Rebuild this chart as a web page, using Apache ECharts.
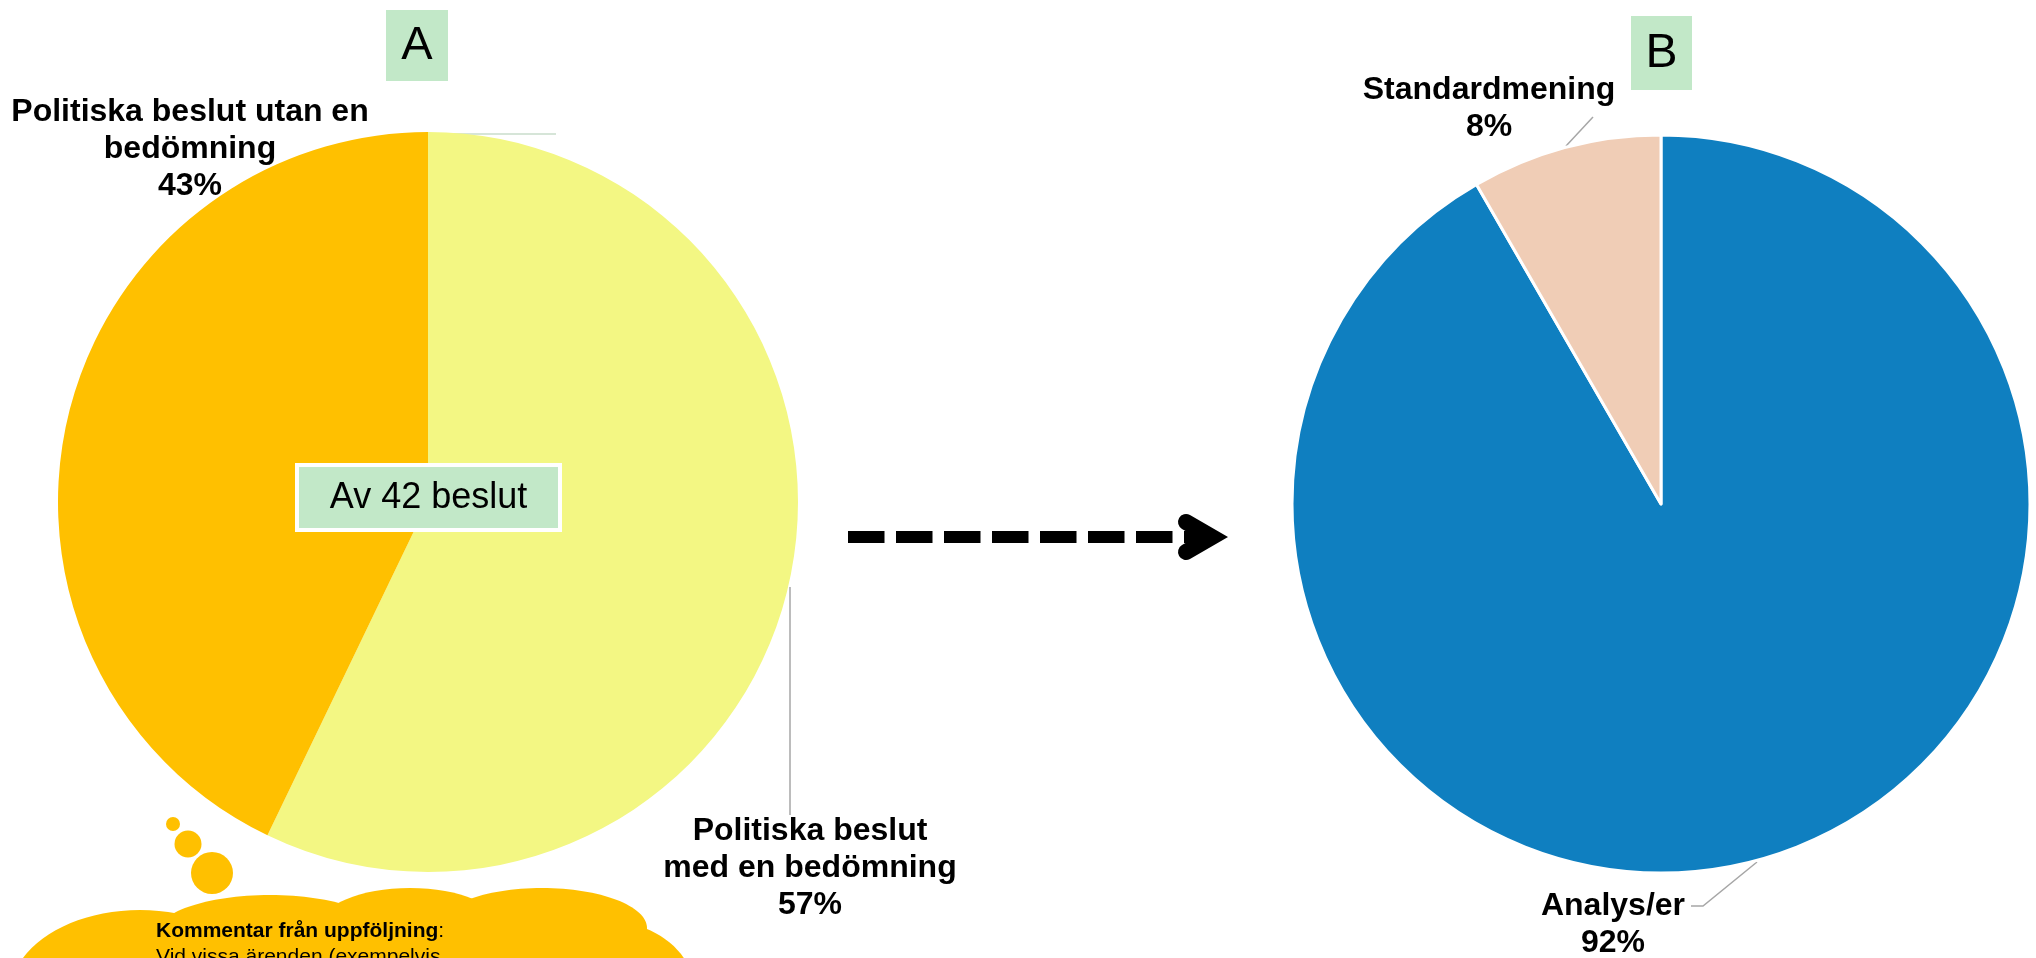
<!DOCTYPE html>
<html>
<head>
<meta charset="utf-8">
<script src="https://cdn.jsdelivr.net/npm/echarts@6/dist/echarts.min.js"></script>
<style>
html,body{margin:0;padding:0;background:#fff;}
#chart{width:2036px;height:958px;}
</style>
</head>
<body>
<div id="chart"></div>
<script>
// ---- data ----
const catA = ['Politiska beslut\nmed en bedömning', 'Politiska beslut utan en\nbedömning'];
const valA = [24, 18];
const catB = ['Analys/er', 'Standardmening'];
const valB = [22, 2];
const totalLabel = 'Av 42 beslut';
const panelA = 'A';
const panelB = 'B';
const commentTitle = 'Kommentar från uppföljning';
const commentText = 'Vid vissa ärenden (exempelvis';

// ---- styles ----
const colorsA = ['#F3F783', '#FFC000'];
const colorsB = ['#0F7FC0', '#F0CDB6'];
const FONT = '"Liberation Sans", Arial, sans-serif';

const labelPos = [
  [ {x: 810, y: 868, line: [[790, 587], [790, 815]], lc: '#A6A6A6'},
    {x: 190, y: 149, line: [[432, 134], [556, 134]], lc: '#C8DDCB'} ],
  [ {x: 1613, y: 925, line: [[1757, 862], [1703, 906], [1691, 906]], lc: '#A6A6A6'},
    {x: 1489, y: 109, line: [[1593, 117], [1566, 146]], lc: '#A6A6A6'} ]
];

function mkData(cats, vals, colors, si) {
  return cats.map((c, i) => ({
    name: c, value: vals[i], itemStyle: {color: colors[i]},
    labelLine: {lineStyle: {color: labelPos[si][i].lc, width: 1.5}}
  }));
}

const labelCommon = {
  show: true,
  formatter: '{b}\n{d}%',
  fontFamily: FONT,
  fontSize: 32,
  fontWeight: 'bold',
  lineHeight: 37,
  color: '#000',
  align: 'center',
  width: 460,
  overflow: 'none'
};

function layoutFn(params) {
  const p = labelPos[params.seriesIndex][params.dataIndex];
  return {x: p.x, y: p.y, align: 'center', verticalAlign: 'middle', labelLinePoints: p.line};
}

const chart = echarts.init(document.getElementById('chart'));

// cloud shapes
const cloudColor = '#FFC000';
const ellipses = [
  [140, 995, 130, 85],
  [270, 935, 115, 40],
  [410, 926, 90, 38],
  [542, 928, 105, 40],
  [602, 990, 92, 70]
];
const cloudGraphics = ellipses.map(e => ({
  type: 'ellipse', shape: {cx: e[0], cy: e[1], rx: e[2], ry: e[3]},
  style: {fill: cloudColor}, z: 10
}));
cloudGraphics.push({type: 'rect', shape: {x: 100, y: 925, width: 520, height: 40}, style: {fill: cloudColor}, z: 10});
[[173, 824, 7], [188, 844, 13.5], [212, 873, 21]].forEach(c => cloudGraphics.push({
  type: 'circle', shape: {cx: c[0], cy: c[1], r: c[2]}, style: {fill: cloudColor}, z: 10
}));

chart.setOption({
  animation: false,
  backgroundColor: '#fff',
  series: [
    {
      type: 'pie',
      center: [428, 502],
      radius: 370,
      startAngle: 90,
      clockwise: true,
      percentPrecision: 0,
      avoidLabelOverlap: false,
      data: mkData(catA, valA, colorsA, 0),
      label: labelCommon,
      labelLine: {show: true},
      labelLayout: layoutFn,
      emphasis: {disabled: true}
    },
    {
      type: 'pie',
      center: [1661, 504],
      radius: 369,
      startAngle: 90,
      clockwise: true,
      percentPrecision: 0,
      avoidLabelOverlap: false,
      data: mkData(catB, valB, colorsB, 1),
      itemStyle: {borderColor: '#fff', borderWidth: 3},
      label: labelCommon,
      labelLine: {show: true},
      labelLayout: layoutFn,
      emphasis: {disabled: true}
    }
  ],
  graphic: [
    // panel A box
    {type: 'rect', shape: {x: 386, y: 10, width: 62, height: 71}, style: {fill: '#C2E8C8'}, z: 100},
    {type: 'text', x: 417, y: 46, style: {text: panelA, font: '47px ' + FONT, fill: '#000', align: 'center', verticalAlign: 'middle'}, z: 101},
    // panel B box
    {type: 'rect', shape: {x: 1631, y: 16, width: 61, height: 74}, style: {fill: '#C2E8C8'}, z: 100},
    {type: 'text', x: 1661.5, y: 54, style: {text: panelB, font: '48px ' + FONT, fill: '#000', align: 'center', verticalAlign: 'middle'}, z: 101},
    // total box
    {type: 'rect', shape: {x: 297, y: 465, width: 263, height: 65}, style: {fill: '#C2E8C8', stroke: '#fff', lineWidth: 4}, z: 100},
    {type: 'text', x: 428.5, y: 498, style: {text: totalLabel, font: '36px ' + FONT, fill: '#000', align: 'center', verticalAlign: 'middle'}, z: 101},
    // dashed arrow
    {type: 'line', shape: {x1: 848, y1: 537, x2: 1205, y2: 537}, style: {stroke: '#000', lineWidth: 12, lineDash: [36.5, 11.5], lineCap: 'butt'}, z: 100},
    {type: 'polyline', shape: {points: [[1186, 522], [1212, 537], [1186, 552]]}, style: {stroke: '#000', fill: null, lineWidth: 16, lineCap: 'round', lineJoin: 'miter', miterLimit: 10}, z: 100},
    ...cloudGraphics,
    {type: 'text', x: 156, y: 918, style: {
      text: '{b|' + commentTitle + '}{r|:}\n{r|' + commentText + '}',
      rich: {
        b: {fontFamily: FONT, fontSize: 21, fontWeight: 'bold', fill: '#000', lineHeight: 26},
        r: {fontFamily: FONT, fontSize: 21, fill: '#000', lineHeight: 26}
      },
      align: 'left', verticalAlign: 'top'
    }, z: 20}
  ]
});
</script>
</body>
</html>
